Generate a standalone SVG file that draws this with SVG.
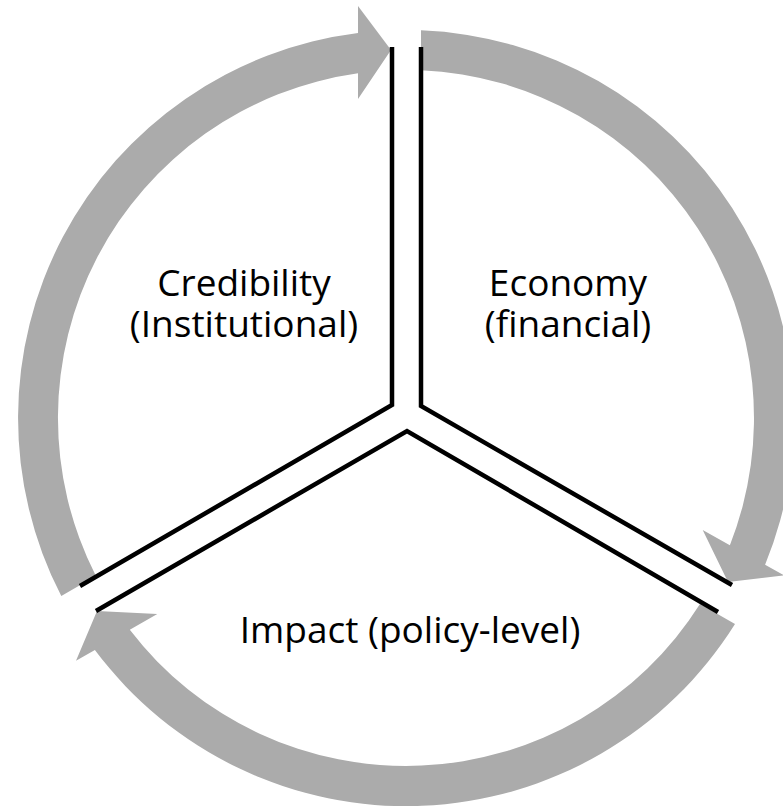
<svg xmlns="http://www.w3.org/2000/svg" width="783" height="806" viewBox="0 0 783 806">
  <style>
    .arrow { fill: #ABABAB; stroke: none; }
    .divider { fill: none; stroke: #000000; stroke-width: 4.5; stroke-linejoin: miter; stroke-linecap: butt; }
    .label { font-family: "Open Sans", "Noto Sans", "Liberation Sans", sans-serif; font-size: 37px; fill: #000000; text-anchor: middle; }
  </style>
  <rect x="0" y="0" width="783" height="806" fill="#FFFFFF"/>
  <g id="connectors">
    <path id="arrow-credibility-to-economy" class="arrow" d="M 61.3 596 A 388 388 0 0 1 358 33 L 358 6 L 391 50 L 358 99 L 358 73.3 A 348 348 0 0 0 95.9 576 Z"/>
    <path id="arrow-economy-to-impact" class="arrow" d="M 421 30.3 A 388 388 0 0 1 765.1 564.8 L 784 575.3 L 728 582 L 702.7 530 L 729.9 545.2 A 348 348 0 0 0 421 70.3 Z"/>
    <path id="arrow-impact-to-credibility" class="arrow" d="M 700 604 L 735 624 A 388 388 0 0 1 94.9 649.9 L 76 660.7 L 97 611 L 157.3 614 L 129.8 629.8 A 348 348 0 0 0 700 604 Z"/>
  </g>
  <g id="dividers">
    <polyline class="divider" points="392,47 392,405 80,586"/>
    <polyline class="divider" points="421,47 421,406 732,585"/>
    <polyline class="divider" points="96,611 407,431 718,612"/>
  </g>
  <g id="credibility">
    <text class="label" x="244" y="296"><tspan x="244" y="296">Credibility</tspan><tspan x="244" y="337">(Institutional)</tspan></text>
  </g>
  <g id="economy">
    <text class="label" x="568" y="296"><tspan x="568" y="296">Economy</tspan><tspan x="568" y="337">(financial)</tspan></text>
  </g>
  <g id="impact">
    <text class="label" x="410" y="643">Impact (policy-level)</text>
  </g>
</svg>
